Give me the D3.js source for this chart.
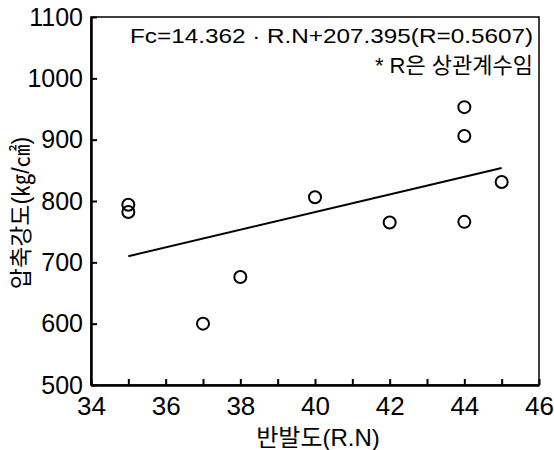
<!DOCTYPE html>
<html><head><meta charset="utf-8">
<script src="https://cdn.jsdelivr.net/npm/d3@7"></script>
<style>body{margin:0;background:#fff}svg{display:block}</style>
</head><body>
<script>
const rn = [35, 35, 37, 38, 40, 42, 44, 44, 44, 45];
const fc = [794, 782, 600, 676, 806, 765, 953, 906, 766, 831];
const fitX = [35, 45];
const slope = 14.362, intercept = 207.395;
const xTicks = [34,35,36,37,38,39,40,41,42,43,44,45,46];
const xLabels = [34,36,38,40,42,44,46];
const yTicks = [500,600,700,800,900,1000,1100];
const eqText = "Fc=14.362 · R.N+207.395(R=0.5607)";
const noteText = "* R은 상관계수임";
const xTitle = "반발도(R.N)";
const yTitle = "압축강도(㎏/㎠)";

const W = 554, H = 450;
const L = 91, R = 539, T = 17, B = 385;
const font = "'Liberation Sans', Arial, 'Noto Sans CJK KR', sans-serif";
const svg = d3.select("body").append("svg").attr("width", W).attr("height", H)
  .style("font-family", font);
const x = d3.scaleLinear().domain([34, 46]).range([L, R]);
const y = d3.scaleLinear().domain([500, 1100]).range([B, T]);

// frame
svg.append("rect").attr("x", L).attr("y", T).attr("width", R - L).attr("height", B - T)
  .attr("fill", "none").attr("stroke", "#000").attr("stroke-width", 1.5);

// axes
const xAxis = d3.axisBottom(x).tickValues(xTicks).tickSizeInner(-6).tickSizeOuter(0)
  .tickFormat(d => xLabels.includes(d) ? String(d) : "").tickPadding(12);
const gx = svg.append("g").attr("transform", `translate(0,${B})`).call(xAxis);
gx.select(".domain").attr("stroke-width", 2.5);
gx.selectAll(".tick line").attr("stroke-width", 2);
gx.selectAll("text").attr("font-size", 26).attr("fill", "#000").attr("font-family", font);

const yAxis = d3.axisLeft(y).tickValues(yTicks).tickSizeInner(-6).tickSizeOuter(0)
  .tickFormat(d => String(d)).tickPadding(8);
const gy = svg.append("g").attr("transform", `translate(${L},0)`).call(yAxis);
gy.select(".domain").attr("stroke-width", 2.5);
gy.selectAll(".tick line").attr("stroke-width", 2);
gy.selectAll("text").attr("font-size", 25).attr("fill", "#000").attr("font-family", font);

// regression line
svg.append("line")
  .attr("x1", x(fitX[0])).attr("y1", y(slope * fitX[0] + intercept))
  .attr("x2", x(fitX[1])).attr("y2", y(slope * fitX[1] + intercept))
  .attr("stroke", "#000").attr("stroke-width", 2);

// points
svg.selectAll("circle.pt").data(rn.map((d, i) => [d, fc[i]])).enter().append("circle")
  .attr("class", "pt").attr("cx", d => x(d[0])).attr("cy", d => y(d[1])).attr("r", 6)
  .attr("fill", "none").attr("stroke", "#000").attr("stroke-width", 2);

// annotations
svg.append("text").attr("x", 533).attr("y", 43).attr("text-anchor", "end")
  .attr("font-size", 21).attr("textLength", 403).attr("lengthAdjust", "spacingAndGlyphs")
  .text(eqText);
svg.append("text").attr("x", 533).attr("y", 73).attr("text-anchor", "end")
  .attr("font-size", 22).text(noteText);

// titles
svg.append("text").attr("x", 318).attr("y", 446).attr("text-anchor", "middle")
  .attr("font-size", 24).text(xTitle);
svg.append("text").attr("transform", "translate(29,213) rotate(-90)").attr("text-anchor", "middle")
  .attr("font-size", 23).text(yTitle);
</script>
</body></html>
